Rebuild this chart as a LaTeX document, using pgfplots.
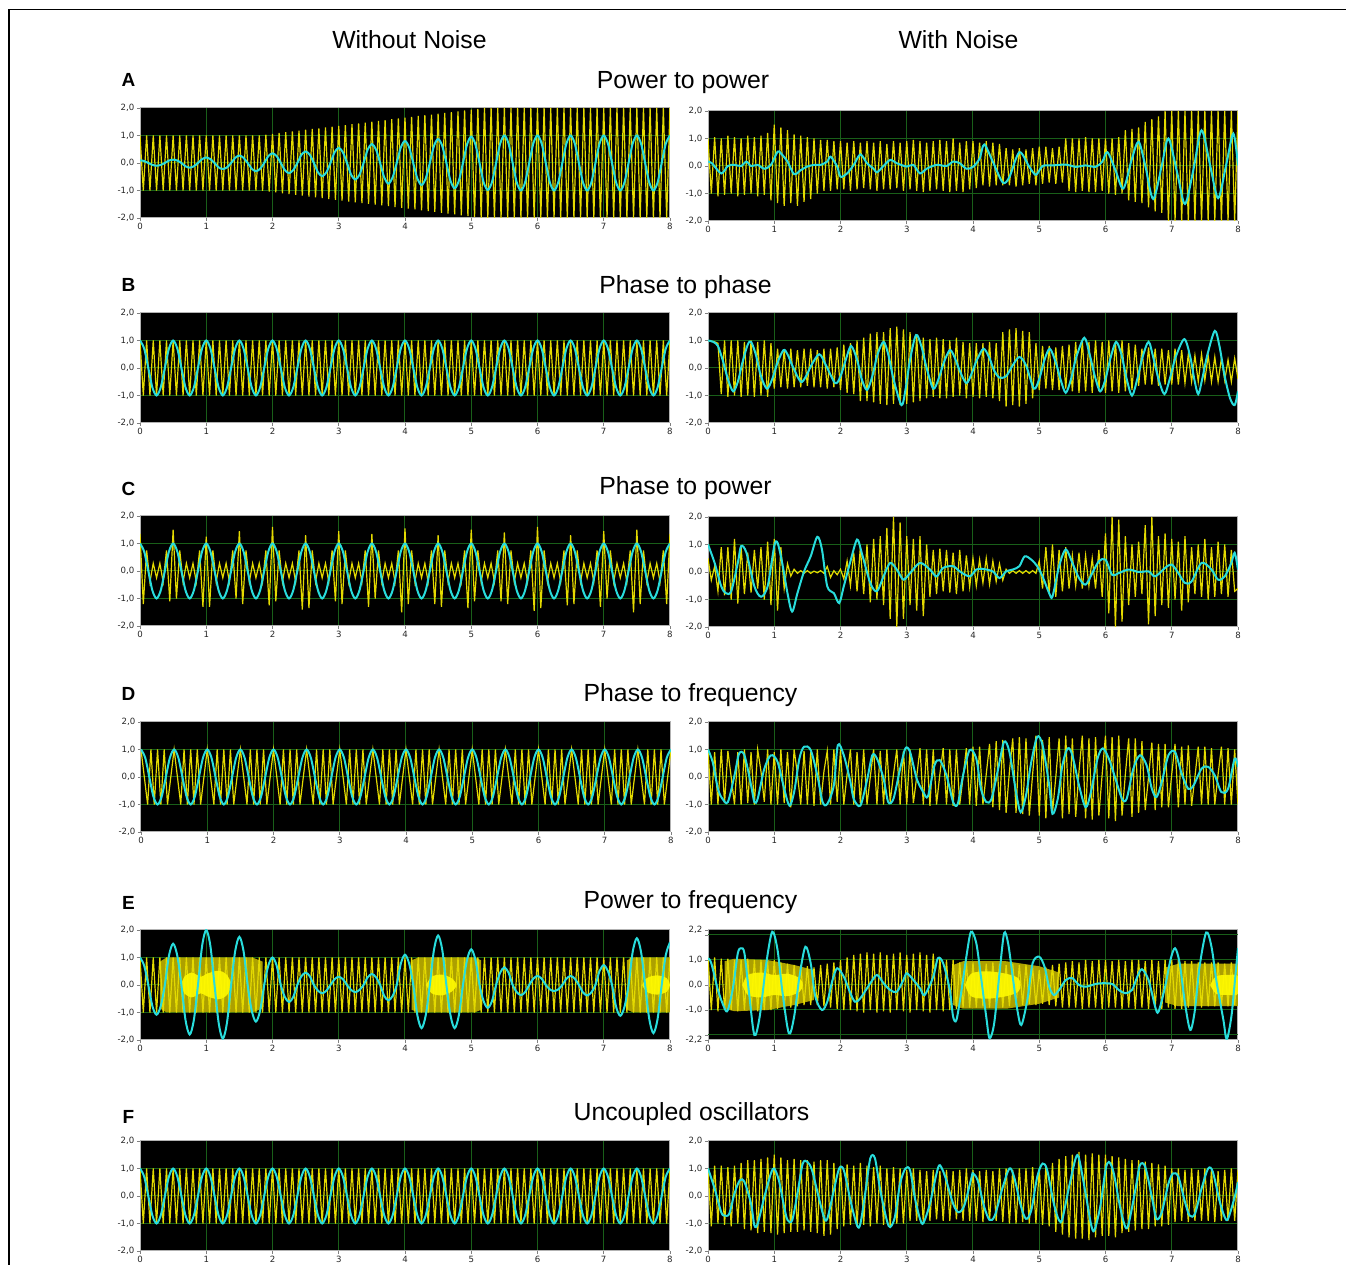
\documentclass[border=0pt]{standalone}
\usepackage{pgfplots}
\pgfplotsset{compat=1.18}
\usepackage{fontspec}
\setmainfont{Liberation Sans}
\newfontfamily\tickfont{DejaVu Sans}
\definecolor{yl}{RGB}{228,218,0}
\definecolor{cy}{RGB}{40,220,220}
\definecolor{olv}{RGB}{172,160,0}
\definecolor{core}{RGB}{255,250,0}
\definecolor{gridg}{RGB}{25,95,25}
\pgfplotsset{
 osc/.style={scale only axis,width=265pt,height=55pt,xmin=0,xmax=8,ymin=-2,ymax=2,
  axis background/.style={fill=black},
  xtick={0,1,...,8}, xticklabels={0,1,2,3,4,5,6,7,8},
  ytick={-2,-1,0,1,2}, yticklabels={{-2,0},{-1,0},{0,0},{1,0},{2,0}},
  xtick pos=bottom, ytick pos=left,
  grid=major, grid style={draw=gridg,line width=0.5pt},
  tick align=outside, major tick length=1.6pt,
  tick style={draw=gray,line width=0.4pt},
  axis line style={draw=gray!60,line width=0.5pt},
  tick label style={font=\tickfont\fontsize{4.3}{5}\selectfont,text=black!85},
  xticklabel style={inner sep=1pt},
  yticklabel style={inner sep=1pt},
  anchor=south west},
 ylw/.style={draw=yl,line width=0.6pt},
 cyn/.style={draw=cy,line width=1pt,smooth},
}
\begin{document}
\begin{tikzpicture}
\useasboundingbox (0,0) rectangle (673pt,632.5pt);
\draw[line width=0.6pt] (4.5pt,0pt) -- (4.5pt,627.8pt) -- (673pt,627.8pt);
\node[font=\fontsize{12.4}{14}\selectfont,anchor=base] at (204.75pt,608.25pt) {Without Noise};
\node[font=\fontsize{12.4}{14}\selectfont,anchor=base] at (479.25pt,608.25pt) {With Noise};
\node[font=\fontsize{12.4}{14}\selectfont,anchor=base] at (341.5pt,588.25pt) {Power to power};
\node[font=\fontsize{12.4}{14}\selectfont,anchor=base] at (342.75pt,485.75pt) {Phase to phase};
\node[font=\fontsize{12.4}{14}\selectfont,anchor=base] at (342.75pt,385.25pt) {Phase to power};
\node[font=\fontsize{12.4}{14}\selectfont,anchor=base] at (345.25pt,281.75pt) {Phase to frequency};
\node[font=\fontsize{12.4}{14}\selectfont,anchor=base] at (345.25pt,178.25pt) {Power to frequency};
\node[font=\fontsize{12.4}{14}\selectfont,anchor=base] at (345.75pt,72.25pt) {Uncoupled oscillators};
\node[font=\bfseries\fontsize{9.5}{11}\selectfont,anchor=base] at (64.25pt,589.25pt) {A};
\node[font=\bfseries\fontsize{9.5}{11}\selectfont,anchor=base] at (64.25pt,486.75pt) {B};
\node[font=\bfseries\fontsize{9.5}{11}\selectfont,anchor=base] at (64.25pt,384.75pt) {C};
\node[font=\bfseries\fontsize{9.5}{11}\selectfont,anchor=base] at (64.25pt,282.25pt) {D};
\node[font=\bfseries\fontsize{9.5}{11}\selectfont,anchor=base] at (64.25pt,177.75pt) {E};
\node[font=\bfseries\fontsize{9.5}{11}\selectfont,anchor=base] at (64.25pt,70.75pt) {F};

% ---------------- A left ----------------
\begin{axis}[osc,at={(70pt,523.5pt)}]
\addplot[ylw] table[x expr=\coordindex*0.05,y index=0,header=false,row sep=\\]{
1\\-1\\1\\-1\\1\\-1\\1\\-1\\1\\-1\\1\\-1\\1\\-1\\1\\-1\\1\\-1\\1\\-1\\
1\\-1\\1\\-1\\1\\-1\\1\\-1\\1\\-1\\1\\-1\\1\\-1\\1\\-1\\1\\-1.01\\1.03\\-1.04\\
1.06\\-1.07\\1.09\\-1.10\\1.12\\-1.13\\1.15\\-1.16\\1.18\\-1.19\\1.21\\-1.22\\1.24\\-1.25\\1.26\\-1.28\\1.29\\-1.31\\1.32\\-1.34\\
1.35\\-1.37\\1.38\\-1.40\\1.41\\-1.43\\1.44\\-1.46\\1.47\\-1.49\\1.50\\-1.51\\1.53\\-1.54\\1.56\\-1.57\\1.59\\-1.60\\1.62\\-1.63\\
1.65\\-1.66\\1.68\\-1.69\\1.71\\-1.72\\1.74\\-1.75\\1.76\\-1.78\\1.79\\-1.81\\1.82\\-1.84\\1.85\\-1.87\\1.88\\-1.90\\1.91\\-1.93\\
1.94\\-1.96\\1.97\\-1.99\\2\\-2\\2\\-2\\2\\-2\\2\\-2\\2\\-2\\2\\-2\\2\\-2\\2\\-2\\
2\\-2\\2\\-2\\2\\-2\\2\\-2\\2\\-2\\2\\-2\\2\\-2\\2\\-2\\2\\-2\\2\\-2\\
2\\-2\\2\\-2\\2\\-2\\2\\-2\\2\\-2\\2\\-2\\2\\-2\\2\\-2\\2\\-2\\2\\-2\\
2\\};
\addplot[cyn] table[x expr=\coordindex*0.0625,y index=0,header=false,row sep=\\]{
0.1\\0.07\\0\\-0.07\\-0.1\\-0.07\\0\\0.09\\0.12\\0.09\\0\\-0.12\\-0.17\\-0.12\\0\\0.14\\
0.2\\0.14\\0\\-0.16\\-0.22\\-0.16\\0\\0.19\\0.27\\0.19\\0\\-0.21\\-0.3\\-0.21\\0\\0.25\\
0.35\\0.25\\0\\-0.26\\-0.37\\-0.26\\0\\0.3\\0.42\\0.3\\0\\-0.34\\-0.48\\-0.34\\0\\0.39\\
0.55\\0.39\\0\\-0.43\\-0.6\\-0.43\\0\\0.49\\0.69\\0.49\\0\\-0.53\\-0.75\\-0.53\\0\\0.57\\
0.8\\0.57\\0\\-0.57\\-0.8\\-0.57\\0\\0.62\\0.87\\0.62\\0\\-0.65\\-0.92\\-0.65\\0\\0.68\\
0.96\\0.68\\0\\-0.7\\-0.98\\-0.7\\0\\0.71\\1\\0.71\\0\\-0.71\\-1\\-0.71\\0\\0.71\\
1\\0.71\\0\\-0.71\\-1\\-0.71\\0\\0.71\\1\\0.71\\0\\-0.71\\-1\\-0.71\\0\\0.71\\
1\\0.71\\0\\-0.71\\-1\\-0.71\\0\\0.71\\1\\0.71\\0\\-0.71\\-1\\-0.71\\0\\0.71\\
1\\};
\end{axis}

% ---------------- A right ----------------
\begin{axis}[osc,at={(354pt,522pt)}]
\addplot[ylw] table[x expr=\coordindex*0.05,y index=0,header=false,row sep=\\]{
1.0\\-1.0\\1.05\\-1.1\\1.0\\-1.05\\1.1\\-1.0\\1.05\\-1.1\\1.0\\-1.05\\1.1\\-1.0\\1.05\\-1.1\\1.1\\-1.05\\1.2\\-1.25\\
1.5\\-1.35\\1.4\\-1.45\\1.3\\-1.35\\1.15\\-1.45\\1.1\\-1.3\\1.05\\-1.2\\1.0\\-1.0\\0.95\\-0.9\\0.95\\-0.9\\0.9\\-0.85\\
0.9\\-0.85\\0.85\\-0.9\\0.9\\-0.85\\0.85\\-0.8\\0.9\\-0.85\\0.85\\-0.9\\0.9\\-0.85\\0.8\\-0.85\\0.9\\-0.8\\0.85\\-0.9\\
0.9\\-0.85\\0.95\\-0.9\\0.9\\-0.95\\0.85\\-0.9\\0.9\\-0.85\\0.95\\-0.9\\0.9\\-0.95\\1.0\\-0.9\\0.85\\-0.95\\0.9\\-0.85\\
0.9\\-0.8\\0.85\\-0.7\\0.9\\-0.75\\0.85\\-0.7\\0.8\\-0.7\\0.65\\-0.7\\0.6\\-0.75\\0.65\\-0.7\\0.6\\-0.65\\0.65\\-0.7\\
0.7\\-0.65\\0.7\\-0.6\\0.65\\-0.65\\0.7\\-0.6\\1.0\\-0.9\\1.0\\-0.95\\1.0\\-0.9\\1.05\\-0.95\\1.0\\-0.95\\1.0\\-0.9\\
1.0\\-1.0\\1.0\\-1.05\\1.05\\-1.0\\1.3\\-1.25\\1.35\\-1.3\\1.4\\-1.35\\1.6\\-1.5\\1.7\\-1.65\\1.8\\-1.7\\2\\-2\\
2\\-2\\2\\-2\\2\\-2\\2\\-2\\2\\-2\\2\\-2\\2\\-2\\2\\-2\\2\\-2\\2\\-2\\
2\\};
\addplot[cyn] coordinates {(0,0.16)(0.06,0.1)(0.2,-0.27)(0.3,0)(0.4,0.04)(0.5,0)(0.58,0.16)(0.65,0)(0.75,0.04)(0.85,-0.1)(0.95,0.04)(1.05,0.52)(1.1,0.46)(1.2,0.16)(1.3,-0.3)(1.4,-0.15)(1.5,-0.02)(1.6,0.04)(1.7,0.04)(1.8,0.16)(1.85,0.34)(1.95,-0.02)(2.0,-0.39)(2.1,-0.27)(2.2,0.04)(2.3,0.42)(2.4,0.1)(2.5,-0.1)(2.55,-0.23)(2.65,0)(2.75,0.22)(2.85,0.1)(3.0,-0.02)(3.1,0.04)(3.2,-0.27)(3.3,-0.1)(3.45,0.04)(3.6,0)(3.7,0.16)(3.8,0.1)(3.9,-0.1)(4.0,-0.03)(4.1,0.27)(4.17,0.78)(4.3,0.15)(4.45,-0.6)(4.55,-0.4)(4.7,0.5)(4.85,-0.03)(4.95,-0.32)(5.05,0)(5.2,0.02)(5.4,0.05)(5.55,-0.03)(5.7,0.02)(5.85,-0.03)(5.95,0.15)(6.03,0.5)(6.15,-0.15)(6.27,-0.82)(6.4,0.27)(6.5,0.88)(6.6,0.02)(6.72,-1.2)(6.85,0.02)(6.95,1.0)(7.08,-0.22)(7.2,-1.38)(7.33,-0.1)(7.45,1.3)(7.58,0.02)(7.7,-1.17)(7.82,0.02)(7.93,1.18)(8,0.02)};
\end{axis}

% ---------------- B left ----------------
\begin{axis}[osc,at={(70pt,421pt)}]
\addplot[ylw] table[x expr=\coordindex*0.05,y index=0,header=false,row sep=\\]{
1\\-1\\1\\-1\\1\\-1\\1\\-1\\1\\-1\\1\\-1\\1\\-1\\1\\-1\\1\\-1\\1\\-1\\
1\\-1\\1\\-1\\1\\-1\\1\\-1\\1\\-1\\1\\-1\\1\\-1\\1\\-1\\1\\-1\\1\\-1\\
1\\-1\\1\\-1\\1\\-1\\1\\-1\\1\\-1\\1\\-1\\1\\-1\\1\\-1\\1\\-1\\1\\-1\\
1\\-1\\1\\-1\\1\\-1\\1\\-1\\1\\-1\\1\\-1\\1\\-1\\1\\-1\\1\\-1\\1\\-1\\
1\\-1\\1\\-1\\1\\-1\\1\\-1\\1\\-1\\1\\-1\\1\\-1\\1\\-1\\1\\-1\\1\\-1\\
1\\-1\\1\\-1\\1\\-1\\1\\-1\\1\\-1\\1\\-1\\1\\-1\\1\\-1\\1\\-1\\1\\-1\\
1\\-1\\1\\-1\\1\\-1\\1\\-1\\1\\-1\\1\\-1\\1\\-1\\1\\-1\\1\\-1\\1\\-1\\
1\\-1\\1\\-1\\1\\-1\\1\\-1\\1\\-1\\1\\-1\\1\\-1\\1\\-1\\1\\-1\\1\\-1\\
1\\};
\addplot[cyn] table[x expr=\coordindex*0.0625,y index=0,header=false,row sep=\\]{
1\\0.71\\0\\-0.71\\-1\\-0.71\\0\\0.71\\1\\0.71\\0\\-0.71\\-1\\-0.71\\0\\0.71\\
1\\0.71\\0\\-0.71\\-1\\-0.71\\0\\0.71\\1\\0.71\\0\\-0.71\\-1\\-0.71\\0\\0.71\\
1\\0.71\\0\\-0.71\\-1\\-0.71\\0\\0.71\\1\\0.71\\0\\-0.71\\-1\\-0.71\\0\\0.71\\
1\\0.71\\0\\-0.71\\-1\\-0.71\\0\\0.71\\1\\0.71\\0\\-0.71\\-1\\-0.71\\0\\0.71\\
1\\0.71\\0\\-0.71\\-1\\-0.71\\0\\0.71\\1\\0.71\\0\\-0.71\\-1\\-0.71\\0\\0.71\\
1\\0.71\\0\\-0.71\\-1\\-0.71\\0\\0.71\\1\\0.71\\0\\-0.71\\-1\\-0.71\\0\\0.71\\
1\\0.71\\0\\-0.71\\-1\\-0.71\\0\\0.71\\1\\0.71\\0\\-0.71\\-1\\-0.71\\0\\0.71\\
1\\0.71\\0\\-0.71\\-1\\-0.71\\0\\0.71\\1\\0.71\\0\\-0.71\\-1\\-0.71\\0\\0.71\\
1\\};
\end{axis}

% ---------------- B right ----------------
\begin{axis}[osc,at={(354pt,421pt)}]
\addplot[ylw] table[x expr=\coordindex*0.05,y index=0,header=false,row sep=\\]{
1.0\\0.97\\0.95\\0.9\\-0.95\\1.0\\-1.05\\1.0\\-1.0\\1.0\\-1.05\\0.95\\-1.0\\1.0\\-1.05\\0.95\\-1.0\\1.0\\-1.05\\0.9\\
-0.75\\0.7\\-0.7\\0.65\\-0.75\\0.7\\-0.7\\0.65\\-0.7\\0.7\\-0.65\\0.7\\-0.7\\0.65\\-0.7\\0.7\\-0.75\\0.7\\-0.7\\0.75\\
-0.8\\0.85\\-0.9\\0.9\\-0.95\\1.0\\-1.2\\1.1\\-1.2\\1.25\\-1.25\\1.3\\-1.3\\1.3\\-1.35\\1.45\\-1.3\\1.5\\-1.35\\1.4\\
-1.3\\1.3\\-1.25\\1.2\\-1.2\\1.1\\-1.1\\1.05\\-1.05\\1.1\\-1.1\\1.05\\-1.1\\1.0\\-1.05\\1.1\\-1.0\\0.95\\-1.1\\0.9\\
-1.05\\0.9\\-1.1\\0.9\\-1.05\\0.95\\-1.1\\0.9\\-1.2\\1.3\\-1.4\\1.4\\-1.35\\1.45\\-1.4\\1.35\\-1.3\\1.3\\-1.1\\0.9\\
-0.8\\0.8\\-0.75\\0.8\\-0.8\\0.75\\-0.8\\0.8\\-0.75\\0.85\\-0.85\\0.95\\-0.9\\1.0\\-0.85\\0.95\\-0.9\\1.0\\-0.85\\0.95\\
-0.9\\1.0\\-0.85\\0.95\\-0.9\\1.0\\-0.85\\0.9\\-0.8\\0.85\\-0.65\\0.7\\-0.6\\0.75\\-0.6\\0.7\\-0.65\\0.7\\-0.6\\0.65\\
-0.6\\0.7\\-0.6\\0.65\\-0.55\\0.5\\-0.5\\0.45\\-0.5\\0.5\\-0.45\\0.45\\-0.5\\0.4\\-0.5\\0.35\\-0.45\\0.3\\-0.5\\0.35\\
-0.4\\};
\addplot[cyn] coordinates {(0,1)(0.08,0.95)(0.15,0.8)(0.22,0.3)(0.3,-0.4)(0.38,-0.85)(0.45,-0.5)(0.52,0.2)(0.6,0.85)(0.65,0.95)(0.72,0.5)(0.8,-0.3)(0.89,-0.75)(0.97,-0.4)(1.05,0.2)(1.14,0.65)(1.2,0.5)(1.28,0.05)(1.4,-0.5)(1.48,-0.3)(1.56,0.1)(1.68,0.5)(1.78,0.1)(1.92,-0.55)(2.0,-0.3)(2.08,0.3)(2.16,0.8)(2.25,0.3)(2.32,-0.4)(2.4,-0.8)(2.48,-0.3)(2.56,0.5)(2.65,0.95)(2.72,0.5)(2.8,-0.4)(2.92,-1.35)(2.98,-0.8)(3.05,0.3)(3.14,1.2)(3.22,0.8)(3.3,0)(3.4,-0.75)(3.48,-0.4)(3.56,0.2)(3.65,0.65)(3.72,0.4)(3.8,-0.1)(3.9,-0.55)(3.98,-0.2)(4.06,0.3)(4.16,0.7)(4.25,0.35)(4.32,-0.1)(4.4,-0.35)(4.5,-0.3)(4.6,0.1)(4.7,0.4)(4.8,0.1)(4.92,-0.75)(5.0,-0.4)(5.08,0.3)(5.16,0.7)(5.25,0.2)(5.32,-0.4)(5.4,-0.9)(5.48,-0.4)(5.56,0.4)(5.68,1.1)(5.76,0.5)(5.84,-0.3)(5.92,-0.85)(6.0,-0.4)(6.08,0.4)(6.16,0.95)(6.24,0.5)(6.32,-0.4)(6.4,-1.0)(6.48,-0.4)(6.56,0.4)(6.65,0.95)(6.72,0.4)(6.8,-0.4)(6.89,-0.95)(6.97,-0.4)(7.06,0.4)(7.19,1.05)(7.28,0.4)(7.34,-0.4)(7.4,-0.95)(7.46,-0.4)(7.54,0.5)(7.65,1.35)(7.72,0.8)(7.8,-0.3)(7.88,-1.1)(7.95,-1.35)(8,-0.85)};
\end{axis}

% ---------------- C left ----------------
\begin{axis}[osc,at={(70pt,319.5pt)}]
\addplot[ylw] table[x expr=\coordindex*0.05,y index=0,header=false,row sep=\\]{
1.35\\-1.2\\0.75\\-0.4\\0.28\\-0.25\\0.28\\-0.4\\0.75\\-1.1\\
1.5\\-1.0\\0.75\\-0.4\\0.28\\-0.25\\0.28\\-0.4\\0.75\\-1.3\\
1.25\\-1.3\\0.75\\-0.4\\0.28\\-0.25\\0.28\\-0.4\\0.75\\-1.0\\
1.45\\-1.2\\0.75\\-0.4\\0.28\\-0.25\\0.28\\-0.4\\0.75\\-1.25\\
1.6\\-1.1\\0.75\\-0.4\\0.28\\-0.25\\0.28\\-0.4\\0.75\\-1.4\\
1.3\\-1.35\\0.75\\-0.4\\0.28\\-0.25\\0.28\\-0.4\\0.75\\-1.1\\
1.45\\-1.2\\0.75\\-0.4\\0.28\\-0.25\\0.28\\-0.4\\0.75\\-1.3\\
1.35\\-1.0\\0.75\\-0.4\\0.28\\-0.25\\0.28\\-0.4\\0.75\\-1.5\\
1.55\\-1.2\\0.75\\-0.4\\0.28\\-0.25\\0.28\\-0.4\\0.75\\-1.2\\
1.3\\-1.3\\0.75\\-0.4\\0.28\\-0.25\\0.28\\-0.4\\0.75\\-1.35\\
1.5\\-1.1\\0.75\\-0.4\\0.28\\-0.25\\0.28\\-0.4\\0.75\\-1.1\\
1.4\\-1.2\\0.75\\-0.4\\0.28\\-0.25\\0.28\\-0.4\\0.75\\-1.45\\
1.6\\-1.35\\0.75\\-0.4\\0.28\\-0.25\\0.28\\-0.4\\0.75\\-1.25\\
1.3\\-1.2\\0.75\\-0.4\\0.28\\-0.25\\0.28\\-0.4\\0.75\\-1.3\\
1.45\\-1.0\\0.75\\-0.4\\0.28\\-0.25\\0.28\\-0.4\\0.75\\-1.5\\
1.5\\-1.2\\0.75\\-0.4\\0.28\\-0.25\\0.28\\-0.4\\0.75\\-1.2\\
1.35\\};
\addplot[cyn] table[x expr=\coordindex*0.0625,y index=0,header=false,row sep=\\]{
1\\0.71\\0\\-0.71\\-1\\-0.71\\0\\0.71\\1\\0.71\\0\\-0.71\\-1\\-0.71\\0\\0.71\\
1\\0.71\\0\\-0.71\\-1\\-0.71\\0\\0.71\\1\\0.71\\0\\-0.71\\-1\\-0.71\\0\\0.71\\
1\\0.71\\0\\-0.71\\-1\\-0.71\\0\\0.71\\1\\0.71\\0\\-0.71\\-1\\-0.71\\0\\0.71\\
1\\0.71\\0\\-0.71\\-1\\-0.71\\0\\0.71\\1\\0.71\\0\\-0.71\\-1\\-0.71\\0\\0.71\\
1\\0.71\\0\\-0.71\\-1\\-0.71\\0\\0.71\\1\\0.71\\0\\-0.71\\-1\\-0.71\\0\\0.71\\
1\\0.71\\0\\-0.71\\-1\\-0.71\\0\\0.71\\1\\0.71\\0\\-0.71\\-1\\-0.71\\0\\0.71\\
1\\0.71\\0\\-0.71\\-1\\-0.71\\0\\0.71\\1\\0.71\\0\\-0.71\\-1\\-0.71\\0\\0.71\\
1\\0.71\\0\\-0.71\\-1\\-0.71\\0\\0.71\\1\\0.71\\0\\-0.71\\-1\\-0.71\\0\\0.71\\
1\\};
\end{axis}

% ---------------- C right ----------------
\begin{axis}[osc,at={(354pt,319pt)}]
\addplot[ylw] table[x expr=\coordindex*0.05,y index=0,header=false,row sep=\\]{
0.5\\-0.3\\0.2\\-0.7\\0.9\\-0.85\\0.9\\-1.0\\1.2\\-1.15\\0.9\\-0.8\\0.7\\-0.75\\0.8\\-0.6\\0.9\\-1.0\\1.1\\-1.2\\
1.2\\-1.4\\0.9\\-0.6\\0.3\\-0.15\\0.1\\-0.05\\0.05\\-0.05\\0.05\\-0.05\\0.03\\-0.03\\0.05\\-0.05\\0.2\\-0.2\\0.05\\-0.1\\
0.1\\-0.25\\0.4\\-0.5\\0.7\\-0.7\\0.9\\-0.8\\1.0\\-1.1\\1.2\\-1.0\\1.3\\-1.2\\1.6\\-1.7\\2.0\\-2.0\\1.8\\-1.7\\
1.3\\-1.2\\1.2\\-1.4\\1.3\\-1.6\\1.0\\-0.9\\0.8\\-0.8\\0.85\\-0.7\\0.8\\-0.75\\0.7\\-0.8\\0.8\\-0.7\\0.6\\-0.55\\
0.5\\-0.5\\0.45\\-0.4\\0.5\\-0.45\\0.4\\-0.35\\0.3\\-0.3\\0.1\\-0.05\\0.05\\-0.05\\0.05\\-0.05\\0.05\\-0.05\\0.05\\-0.05\\
0.4\\-0.6\\0.9\\-0.8\\1.0\\-0.9\\0.8\\-0.7\\0.9\\-0.6\\0.6\\-0.5\\0.7\\-0.6\\0.6\\-0.5\\0.5\\-0.6\\0.8\\-0.9\\
1.4\\-1.5\\2.0\\-2.0\\1.9\\-1.8\\1.3\\-1.2\\1.0\\-0.9\\1.1\\-0.8\\1.7\\-1.9\\2.0\\-1.6\\1.3\\-1.2\\1.4\\-1.3\\
1.2\\-1.0\\1.1\\-1.4\\1.3\\-1.1\\0.9\\-0.8\\1.0\\-0.9\\1.2\\-1.0\\0.9\\-0.9\\1.1\\-0.8\\1.0\\-0.9\\0.8\\-0.7\\
-0.6\\};
\addplot[cyn] coordinates {(0,1.0)(0.1,0.33)(0.2,-0.52)(0.27,-0.77)(0.35,-0.7)(0.45,0.33)(0.5,0.94)(0.58,0.7)(0.7,-0.52)(0.8,-0.9)(0.9,-0.52)(1.0,0.94)(1.05,1.06)(1.12,0.33)(1.2,-0.77)(1.27,-1.44)(1.35,-0.77)(1.45,0.02)(1.55,0.57)(1.65,1.28)(1.72,0.82)(1.8,-0.52)(1.9,-0.77)(1.98,-1.13)(2.05,-0.52)(2.15,0.39)(2.25,1.18)(2.32,0.7)(2.45,-0.4)(2.55,-0.7)(2.65,-0.16)(2.75,0.33)(2.85,0.09)(2.95,-0.28)(3.05,-0.04)(3.2,0.33)(3.35,0.09)(3.45,-0.16)(3.55,0.15)(3.7,0.21)(3.8,0.02)(3.95,-0.16)(4.05,0.09)(4.15,0.11)(4.3,0.02)(4.4,-0.22)(4.5,0.02)(4.6,0.09)(4.7,0.21)(4.78,0.57)(4.88,0.45)(4.97,0.21)(5.05,-0.16)(5.15,-0.77)(5.2,-0.89)(5.3,0.21)(5.4,0.82)(5.5,0.33)(5.6,-0.22)(5.7,-0.46)(5.8,-0.04)(5.9,0.39)(6.0,0.45)(6.1,-0.1)(6.2,-0.04)(6.35,0.09)(6.5,0)(6.65,0.02)(6.75,-0.16)(6.9,0.15)(7.0,0.27)(7.1,-0.04)(7.2,-0.4)(7.3,-0.34)(7.45,0.33)(7.6,0.09)(7.7,-0.28)(7.8,-0.16)(7.9,0.33)(7.95,0.7)(8.0,0.09)};
\end{axis}

% ---------------- D left ----------------
\begin{axis}[osc,at={(70.5pt,216.5pt)}]
\addplot[ylw] table[x expr=\coordindex*0.05,y index=0,header=false,row sep=\\]{
1\\0\\-1\\1\\-1\\1\\-1\\1\\-1\\0\\1\\0\\-1\\1\\-1\\1\\-1\\1\\-1\\0\\
1\\0\\-1\\1\\-1\\1\\-1\\1\\-1\\0\\1\\0\\-1\\1\\-1\\1\\-1\\1\\-1\\0\\
1\\0\\-1\\1\\-1\\1\\-1\\1\\-1\\0\\1\\0\\-1\\1\\-1\\1\\-1\\1\\-1\\0\\
1\\0\\-1\\1\\-1\\1\\-1\\1\\-1\\0\\1\\0\\-1\\1\\-1\\1\\-1\\1\\-1\\0\\
1\\0\\-1\\1\\-1\\1\\-1\\1\\-1\\0\\1\\0\\-1\\1\\-1\\1\\-1\\1\\-1\\0\\
1\\0\\-1\\1\\-1\\1\\-1\\1\\-1\\0\\1\\0\\-1\\1\\-1\\1\\-1\\1\\-1\\0\\
1\\0\\-1\\1\\-1\\1\\-1\\1\\-1\\0\\1\\0\\-1\\1\\-1\\1\\-1\\1\\-1\\0\\
1\\0\\-1\\1\\-1\\1\\-1\\1\\-1\\0\\1\\0\\-1\\1\\-1\\1\\-1\\1\\-1\\0\\
1\\};
\addplot[cyn] table[x expr=\coordindex*0.0625,y index=0,header=false,row sep=\\]{
1\\0.71\\0\\-0.71\\-1\\-0.71\\0\\0.71\\1\\0.71\\0\\-0.71\\-1\\-0.71\\0\\0.71\\
1\\0.71\\0\\-0.71\\-1\\-0.71\\0\\0.71\\1\\0.71\\0\\-0.71\\-1\\-0.71\\0\\0.71\\
1\\0.71\\0\\-0.71\\-1\\-0.71\\0\\0.71\\1\\0.71\\0\\-0.71\\-1\\-0.71\\0\\0.71\\
1\\0.71\\0\\-0.71\\-1\\-0.71\\0\\0.71\\1\\0.71\\0\\-0.71\\-1\\-0.71\\0\\0.71\\
1\\0.71\\0\\-0.71\\-1\\-0.71\\0\\0.71\\1\\0.71\\0\\-0.71\\-1\\-0.71\\0\\0.71\\
1\\0.71\\0\\-0.71\\-1\\-0.71\\0\\0.71\\1\\0.71\\0\\-0.71\\-1\\-0.71\\0\\0.71\\
1\\0.71\\0\\-0.71\\-1\\-0.71\\0\\0.71\\1\\0.71\\0\\-0.71\\-1\\-0.71\\0\\0.71\\
1\\0.71\\0\\-0.71\\-1\\-0.71\\0\\0.71\\1\\0.71\\0\\-0.71\\-1\\-0.71\\0\\0.71\\
1\\};
\end{axis}

% ---------------- D right ----------------
\begin{axis}[osc,at={(354pt,216.5pt)}]
\addplot[ylw] table[x expr=\coordindex*0.05,y index=0,header=false,row sep=\\]{
1.0\\-1.0\\0.9\\-1.0\\1.0\\-0.95\\0.95\\0\\-1.0\\0.9\\-1.0\\1.0\\-0.95\\0.9\\-1.0\\1.0\\0.2\\-0.9\\1.0\\-1.0\\
0.9\\-1.0\\1.0\\-0.95\\0.9\\-1.1\\1.0\\0.1\\-1.0\\0.95\\-1.0\\0.9\\-1.05\\1.0\\-1.0\\0.2\\0.95\\-1.0\\1.0\\-0.9\\
1.0\\-1.0\\0.1\\1.0\\-1.0\\0.9\\-0.95\\1.0\\-1.0\\0\\1.0\\-1.0\\0.95\\-1.0\\1.0\\-0.9\\0.1\\1.0\\-1.0\\0.95\\
-1.0\\1.0\\-0.95\\0\\1.05\\-1.0\\1.0\\-1.05\\1.0\\-1.0\\0.1\\1.05\\-1.0\\1.0\\-1.05\\1.0\\-1.0\\0\\1.05\\-1.0\\
1.1\\-1.05\\1.1\\-1.0\\0.1\\1.2\\-1.1\\1.3\\-1.2\\1.35\\-1.3\\0.2\\1.4\\-1.3\\1.45\\-1.35\\1.4\\-1.4\\0.1\\1.5\\
-1.4\\1.35\\-1.5\\1.45\\-1.3\\0\\1.4\\-1.5\\1.5\\-1.35\\1.4\\-1.45\\0.2\\1.5\\-1.5\\1.4\\-1.55\\1.45\\-1.4\\0.1\\
1.5\\-1.5\\1.45\\-1.6\\1.5\\-1.4\\0.1\\1.4\\-1.45\\1.4\\-1.3\\1.3\\-1.2\\0\\1.25\\-1.2\\1.2\\-1.1\\1.2\\-1.1\\
0.1\\1.2\\-1.1\\1.1\\-1.0\\1.15\\-1.05\\0\\1.1\\-1.0\\1.1\\-1.0\\1.05\\-1.0\\0.1\\1.1\\-1.0\\1.05\\-1.0\\1.0\\
-1.0\\};
\addplot[cyn] coordinates {(0,1.0)(0.07,0.55)(0.15,-0.43)(0.22,-0.8)(0.3,-0.91)(0.4,0.06)(0.47,0.85)(0.55,0.79)(0.65,-0.3)(0.7,-0.91)(0.75,-0.79)(0.85,0.3)(0.95,0.79)(1.05,0.55)(1.15,-0.43)(1.23,-1.04)(1.3,-0.55)(1.38,0.67)(1.45,1.1)(1.55,0.98)(1.65,0.06)(1.73,-0.91)(1.8,-0.98)(1.9,-0.3)(1.96,1.16)(2.05,0.79)(2.15,-0.18)(2.2,-0.8)(2.3,-1.04)(2.4,-0.12)(2.48,0.79)(2.55,0.67)(2.65,-0.06)(2.72,-0.91)(2.8,-0.79)(2.9,0.3)(2.98,1.04)(3.05,0.91)(3.15,-0.06)(3.25,-0.55)(3.32,-0.7)(3.42,0.43)(3.5,0.61)(3.6,0.06)(3.7,-0.91)(3.77,-0.98)(3.85,0.06)(3.95,0.98)(4.05,0.67)(4.12,-0.43)(4.2,-0.91)(4.28,-0.79)(4.38,0.3)(4.47,1.28)(4.55,0.91)(4.65,-0.55)(4.72,-1.28)(4.8,-0.67)(4.88,0.55)(4.97,1.46)(5.05,1.16)(5.15,-0.3)(5.2,-1.34)(5.28,-0.79)(5.35,0.43)(5.43,1.04)(5.5,0.79)(5.6,-0.3)(5.7,-1.1)(5.78,-0.55)(5.88,0.67)(5.96,1.04)(6.05,0.67)(6.15,-0.06)(6.25,-0.79)(6.32,-0.79)(6.42,0.3)(6.52,0.79)(6.62,0.43)(6.7,-0.43)(6.77,-0.73)(6.85,-0.18)(6.95,0.79)(7.05,0.91)(7.15,0.12)(7.25,-0.43)(7.33,-0.3)(7.45,0.3)(7.55,0.37)(7.65,0.06)(7.75,-0.55)(7.85,-0.43)(7.95,0.67)(8.0,0.37)};
\end{axis}

% ---------------- E left ----------------
\begin{axis}[osc,at={(70pt,112.5pt)}]
\addplot[fill=olv,draw=none] coordinates {(0.3,0.85)(0.4,1)(1.7,1)(1.85,0.85)(1.85,-0.85)(1.7,-1)(0.4,-1)(0.3,-0.85)};
\addplot[fill=olv,draw=none] coordinates {(4.1,0.9)(4.2,1)(5.05,1)(5.15,0.9)(5.15,-0.9)(5.05,-1)(4.2,-1)(4.1,-0.9)};
\addplot[fill=olv,draw=none] coordinates {(7.35,0.9)(7.45,1)(8,1)(8,-1)(7.45,-1)(7.35,-0.9)};
\addplot[ylw] table[x expr=\coordindex*0.05,y index=0,header=false,row sep=\\]{
1\\-1\\1\\-1\\1\\-1\\1\\-1\\1\\-1\\1\\-1\\1\\-1\\1\\-1\\1\\-1\\1\\-1\\
1\\-1\\1\\-1\\1\\-1\\1\\-1\\1\\-1\\1\\-1\\1\\-1\\1\\-1\\1\\-1\\1\\-1\\
1\\-1\\1\\-1\\1\\-1\\1\\-1\\1\\-1\\1\\-1\\1\\-1\\1\\-1\\1\\-1\\1\\-1\\
1\\-1\\1\\-1\\1\\-1\\1\\-1\\1\\-1\\1\\-1\\1\\-1\\1\\-1\\1\\-1\\1\\-1\\
1\\-1\\1\\-1\\1\\-1\\1\\-1\\1\\-1\\1\\-1\\1\\-1\\1\\-1\\1\\-1\\1\\-1\\
1\\-1\\1\\-1\\1\\-1\\1\\-1\\1\\-1\\1\\-1\\1\\-1\\1\\-1\\1\\-1\\1\\-1\\
1\\-1\\1\\-1\\1\\-1\\1\\-1\\1\\-1\\1\\-1\\1\\-1\\1\\-1\\1\\-1\\1\\-1\\
1\\-1\\1\\-1\\1\\-1\\1\\-1\\1\\-1\\1\\-1\\1\\-1\\1\\-1\\1\\-1\\1\\-1\\
1\\};
\addplot[fill=core,draw=none,smooth,fill opacity=0.9] coordinates {(0.62,0)(0.67,0.3)(0.78,0.45)(0.92,0.3)(1.0,0.4)(1.18,0.52)(1.3,0.4)(1.38,0)(1.3,-0.4)(1.18,-0.52)(1.0,-0.4)(0.92,-0.3)(0.78,-0.45)(0.67,-0.3)(0.62,0)};
\addplot[fill=core,draw=none,smooth,fill opacity=0.9] coordinates {(4.32,0)(4.4,0.3)(4.55,0.38)(4.7,0.25)(4.78,0)(4.7,-0.25)(4.55,-0.38)(4.4,-0.3)(4.32,0)};
\addplot[fill=core,draw=none,smooth,fill opacity=0.9] coordinates {(7.58,0)(7.65,0.25)(7.8,0.35)(7.95,0.25)(8.0,0)(7.95,-0.25)(7.8,-0.35)(7.65,-0.25)(7.58,0)};
\addplot[cyn] table[x expr=\coordindex*0.0625,y index=0,header=false,row sep=\\]{
1.0\\0.71\\0\\-0.77\\-1.08\\-0.77\\0\\1.07\\1.5\\1.07\\0\\-1.28\\-1.8\\-1.28\\0\\1.42\\
2.0\\1.42\\0\\-1.38\\-1.95\\-1.38\\0\\1.24\\1.75\\1.24\\0\\-0.94\\-1.33\\-0.94\\0\\0.71\\
1.0\\0.71\\0\\-0.44\\-0.62\\-0.44\\0\\0.32\\0.45\\0.32\\0\\-0.21\\-0.3\\-0.21\\0\\0.21\\
0.3\\0.21\\0\\-0.18\\-0.26\\-0.18\\0\\0.28\\0.4\\0.28\\0\\-0.4\\-0.56\\-0.4\\0\\0.78\\
1.1\\0.78\\0\\-1.11\\-1.57\\-1.11\\0\\1.28\\1.8\\1.28\\0\\-1.11\\-1.57\\-1.11\\0\\0.92\\
1.3\\0.92\\0\\-0.59\\-0.83\\-0.59\\0\\0.45\\0.64\\0.45\\0\\-0.26\\-0.37\\-0.26\\0\\0.23\\
0.33\\0.23\\0\\-0.16\\-0.22\\-0.16\\0\\0.23\\0.33\\0.23\\0\\-0.27\\-0.38\\-0.27\\0\\0.51\\
0.72\\0.51\\0\\-0.8\\-1.12\\-0.8\\0\\1.21\\1.7\\1.21\\0\\-1.24\\-1.75\\-1.24\\0\\1.1\\
1.55\\};
\end{axis}

% ---------------- E right ----------------
\begin{axis}[osc,at={(354pt,112.5pt)},ymin=-2.2,ymax=2.2,ytick={-2.2,-1,0,1,2.2},yticklabels={{-2,2},{-1,0},{0,0},{1,0},{2,2}},extra y ticks={-2,2},extra y tick labels={}]
\addplot[fill=olv,draw=none] coordinates {(0.25,0.95)(0.4,1.05)(0.9,1.0)(1.3,0.8)(1.6,0.6)(1.6,-0.6)(1.3,-0.8)(0.9,-1.0)(0.4,-1.05)(0.25,-0.95)};
\addplot[fill=olv,draw=none] coordinates {(3.7,0.8)(3.85,0.95)(4.5,0.95)(5.0,0.75)(5.3,0.5)(5.3,-0.5)(5.0,-0.75)(4.5,-0.95)(3.85,-0.95)(3.7,-0.8)};
\addplot[fill=olv,draw=none] coordinates {(6.9,0.7)(7.1,0.85)(8,0.85)(8,-0.85)(7.1,-0.85)(6.9,-0.7)};
\addplot[ylw] table[x expr=\coordindex*0.05,y index=0,header=false,row sep=\\]{
1.1\\-1.0\\1.1\\-1.05\\1.05\\-1.0\\1.05\\-1.0\\1.0\\-1.05\\1.0\\-1.0\\1.05\\-1.0\\1.0\\-1.05\\1.0\\-1.0\\0.95\\-1.0\\
1.0\\-0.95\\0.9\\-1.0\\0.85\\-0.9\\0.8\\-0.85\\0.8\\-0.8\\0.75\\-0.8\\0.7\\-0.8\\0.8\\-0.85\\0.85\\-0.9\\0.9\\-0.95\\
1.0\\-1.0\\1.1\\-1.0\\1.2\\-1.05\\1.25\\-1.1\\1.3\\-1.0\\1.25\\-1.1\\1.3\\-1.05\\1.2\\-1.1\\1.25\\-1.0\\1.3\\-1.05\\
1.2\\-1.1\\1.25\\-1.0\\1.3\\-1.05\\1.2\\-1.1\\1.25\\-1.0\\1.1\\-1.05\\1.0\\-1.0\\1.0\\-0.95\\0.9\\-0.9\\0.9\\-0.9\\
0.9\\-0.9\\0.9\\-0.85\\0.85\\-0.9\\0.9\\-0.85\\0.85\\-0.9\\0.8\\-0.85\\0.85\\-0.8\\0.8\\-0.8\\0.8\\-0.75\\0.7\\-0.8\\
0.6\\-0.75\\0.7\\-0.8\\0.8\\-0.85\\0.85\\-0.9\\0.9\\-0.9\\0.95\\-0.9\\0.9\\-0.95\\1.0\\-0.9\\0.95\\-0.9\\1.0\\-0.95\\
1.0\\-0.9\\0.95\\-0.9\\1.0\\-0.95\\0.95\\-0.9\\1.0\\-0.95\\1.0\\-0.9\\0.95\\-0.95\\1.0\\-0.9\\0.95\\-0.95\\1.0\\-0.9\\
1.0\\-0.95\\1.0\\-0.95\\0.95\\-0.9\\0.95\\-0.9\\0.9\\-0.9\\0.9\\-0.85\\0.9\\-0.85\\0.9\\-0.85\\0.85\\-0.85\\0.9\\-0.8\\
0.85\\};
\addplot[fill=core,draw=none,smooth,fill opacity=0.9] coordinates {(0.52,0)(0.6,0.4)(0.8,0.5)(1.0,0.4)(1.2,0.45)(1.38,0.28)(1.43,0)(1.38,-0.28)(1.2,-0.45)(1.0,-0.4)(0.8,-0.5)(0.6,-0.4)(0.52,0)};
\addplot[fill=core,draw=none,smooth,fill opacity=0.9] coordinates {(3.88,0)(3.97,0.45)(4.2,0.55)(4.5,0.45)(4.68,0.28)(4.72,0)(4.68,-0.28)(4.5,-0.45)(4.2,-0.55)(3.97,-0.45)(3.88,0)};
\addplot[fill=core,draw=none,smooth,fill opacity=0.9] coordinates {(7.58,0)(7.67,0.35)(7.85,0.4)(8,0.35)(8,-0.35)(7.85,-0.4)(7.67,-0.35)(7.58,0)};
\addplot[cyn] coordinates {(0,1.07)(0.05,0.87)(0.15,-0.2)(0.25,-0.93)(0.3,-1.0)(0.38,-0.07)(0.45,1.27)(0.5,1.47)(0.55,1.27)(0.62,-0.33)(0.7,-2.0)(0.78,-1.27)(0.88,0.87)(0.97,2.13)(1.05,1.4)(1.12,-0.2)(1.22,-1.93)(1.3,-1.27)(1.38,0.33)(1.47,1.53)(1.55,0.87)(1.62,-0.47)(1.72,-1.0)(1.8,-0.67)(1.88,0.2)(1.95,0.67)(2.05,0.33)(2.15,-0.33)(2.22,-0.67)(2.3,-0.53)(2.45,0.07)(2.55,0.4)(2.65,0.07)(2.75,-0.2)(2.85,-0.27)(2.95,0.2)(3.0,0.47)(3.1,0.2)(3.2,-0.13)(3.27,-0.4)(3.4,0.33)(3.47,1.07)(3.55,0.87)(3.65,-0.2)(3.7,-1.27)(3.75,-1.4)(3.82,-0.33)(3.9,1.13)(3.97,2.13)(4.05,1.67)(4.12,0.33)(4.2,-1.27)(4.25,-2.13)(4.32,-1.53)(4.4,0.47)(4.47,2.07)(4.53,1.67)(4.6,0.33)(4.67,-1.0)(4.73,-1.6)(4.82,-0.6)(4.9,0.87)(5.0,1.13)(5.08,0.73)(5.15,-0.07)(5.22,-0.4)(5.3,-0.2)(5.4,0.2)(5.5,0.27)(5.6,0)(5.7,-0.07)(5.85,0.04)(5.95,0.07)(6.1,0.04)(6.2,-0.2)(6.3,-0.33)(6.4,-0.2)(6.48,0.33)(6.55,0.63)(6.65,0.2)(6.75,-0.87)(6.8,-1.07)(6.9,-0.07)(6.98,1.0)(7.05,1.47)(7.12,0.87)(7.2,-0.73)(7.28,-1.8)(7.35,-1.0)(7.42,0.73)(7.52,2.1)(7.6,1.53)(7.68,0.07)(7.78,-1.4)(7.83,-2.17)(7.9,-1.27)(7.95,0.07)(8.0,1.47)};
\end{axis}

% ---------------- F left ----------------
\begin{axis}[osc,at={(70pt,7pt)}]
\addplot[ylw] table[x expr=\coordindex*0.05,y index=0,header=false,row sep=\\]{
1\\-1\\1\\-1\\1\\-1\\1\\-1\\1\\-1\\1\\-1\\1\\-1\\1\\-1\\1\\-1\\1\\-1\\
1\\-1\\1\\-1\\1\\-1\\1\\-1\\1\\-1\\1\\-1\\1\\-1\\1\\-1\\1\\-1\\1\\-1\\
1\\-1\\1\\-1\\1\\-1\\1\\-1\\1\\-1\\1\\-1\\1\\-1\\1\\-1\\1\\-1\\1\\-1\\
1\\-1\\1\\-1\\1\\-1\\1\\-1\\1\\-1\\1\\-1\\1\\-1\\1\\-1\\1\\-1\\1\\-1\\
1\\-1\\1\\-1\\1\\-1\\1\\-1\\1\\-1\\1\\-1\\1\\-1\\1\\-1\\1\\-1\\1\\-1\\
1\\-1\\1\\-1\\1\\-1\\1\\-1\\1\\-1\\1\\-1\\1\\-1\\1\\-1\\1\\-1\\1\\-1\\
1\\-1\\1\\-1\\1\\-1\\1\\-1\\1\\-1\\1\\-1\\1\\-1\\1\\-1\\1\\-1\\1\\-1\\
1\\-1\\1\\-1\\1\\-1\\1\\-1\\1\\-1\\1\\-1\\1\\-1\\1\\-1\\1\\-1\\1\\-1\\
1\\};
\addplot[cyn] table[x expr=\coordindex*0.0625,y index=0,header=false,row sep=\\]{
1\\0.71\\0\\-0.71\\-1\\-0.71\\0\\0.71\\1\\0.71\\0\\-0.71\\-1\\-0.71\\0\\0.71\\
1\\0.71\\0\\-0.71\\-1\\-0.71\\0\\0.71\\1\\0.71\\0\\-0.71\\-1\\-0.71\\0\\0.71\\
1\\0.71\\0\\-0.71\\-1\\-0.71\\0\\0.71\\1\\0.71\\0\\-0.71\\-1\\-0.71\\0\\0.71\\
1\\0.71\\0\\-0.71\\-1\\-0.71\\0\\0.71\\1\\0.71\\0\\-0.71\\-1\\-0.71\\0\\0.71\\
1\\0.71\\0\\-0.71\\-1\\-0.71\\0\\0.71\\1\\0.71\\0\\-0.71\\-1\\-0.71\\0\\0.71\\
1\\0.71\\0\\-0.71\\-1\\-0.71\\0\\0.71\\1\\0.71\\0\\-0.71\\-1\\-0.71\\0\\0.71\\
1\\0.71\\0\\-0.71\\-1\\-0.71\\0\\0.71\\1\\0.71\\0\\-0.71\\-1\\-0.71\\0\\0.71\\
1\\0.71\\0\\-0.71\\-1\\-0.71\\0\\0.71\\1\\0.71\\0\\-0.71\\-1\\-0.71\\0\\0.71\\
1\\};
\end{axis}

% ---------------- F right ----------------
\begin{axis}[osc,at={(354pt,7pt)}]
\addplot[ylw] table[x expr=\coordindex*0.05,y index=0,header=false,row sep=\\]{
1.0\\-1.1\\1.1\\-1.0\\1.1\\-1.05\\1.05\\-1.1\\1.1\\-1.0\\1.2\\-1.2\\1.3\\-1.25\\1.3\\-1.35\\1.35\\-1.3\\1.4\\-1.35\\
1.5\\-1.4\\1.4\\-1.35\\1.3\\-1.3\\1.35\\-1.3\\1.3\\-1.25\\1.3\\-1.3\\1.25\\-1.35\\1.3\\-1.45\\1.3\\-1.4\\1.2\\-1.2\\
1.1\\-1.1\\1.15\\-1.05\\1.1\\-1.1\\1.2\\-1.05\\1.1\\-1.1\\1.05\\-1.0\\1.1\\-1.05\\1.0\\-1.1\\1.05\\-1.0\\1.0\\-1.0\\
0.95\\-0.9\\1.0\\-0.9\\0.95\\-0.95\\0.9\\-0.9\\0.95\\-0.85\\0.9\\-0.9\\0.95\\-0.9\\0.9\\-0.85\\0.95\\-0.9\\1.0\\-0.9\\
0.95\\-0.9\\0.9\\-0.95\\0.95\\-0.9\\0.9\\-0.9\\1.0\\-0.95\\1.0\\-1.0\\0.95\\-1.0\\1.0\\-0.95\\1.0\\-1.0\\1.05\\-1.0\\
1.0\\-1.05\\1.1\\-1.1\\1.2\\-1.3\\1.35\\-1.4\\1.45\\-1.5\\1.5\\-1.55\\1.6\\-1.55\\1.5\\-1.6\\1.55\\-1.5\\1.5\\-1.45\\
1.5\\-1.45\\1.45\\-1.5\\1.4\\-1.35\\1.35\\-1.3\\1.3\\-1.25\\1.3\\-1.2\\1.25\\-1.2\\1.2\\-1.1\\1.15\\-1.1\\1.1\\-1.05\\
1.0\\-0.95\\1.0\\-0.9\\0.95\\-0.95\\1.0\\-0.9\\0.95\\-0.9\\1.0\\-0.9\\0.95\\-0.95\\0.9\\-0.9\\0.95\\-0.9\\1.0\\-0.9\\
0.95\\};
\addplot[cyn] coordinates {(0,1.0)(0.1,0.27)(0.2,-0.59)(0.25,-0.71)(0.32,-0.65)(0.4,0.09)(0.48,0.57)(0.55,0.51)(0.65,-0.28)(0.7,-1.07)(0.75,-1.01)(0.85,-0.04)(0.95,0.82)(1.0,1.0)(1.07,0.57)(1.15,-0.4)(1.2,-0.87)(1.27,-0.89)(1.35,0.09)(1.43,1.18)(1.5,1.24)(1.57,0.94)(1.67,-0.04)(1.75,-0.77)(1.8,-0.83)(1.9,0.21)(1.98,1.0)(2.05,0.94)(2.15,-0.16)(2.25,-1.07)(2.3,-1.01)(2.38,0.21)(2.45,1.37)(2.52,1.37)(2.6,0.21)(2.7,-0.89)(2.75,-1.13)(2.82,-0.77)(2.9,0.45)(2.98,1.0)(3.05,0.94)(3.12,-0.04)(3.2,-0.83)(3.25,-0.99)(3.35,-0.28)(3.45,0.82)(3.5,1.12)(3.58,0.7)(3.7,-0.28)(3.78,-0.59)(3.87,-0.34)(3.98,0.7)(4.0,0.82)(4.07,0.57)(4.17,-0.4)(4.25,-0.87)(4.33,-0.71)(4.45,0.33)(4.55,1.0)(4.62,0.7)(4.72,-0.34)(4.8,-0.83)(4.88,-0.52)(4.97,0.7)(5.05,1.18)(5.12,0.94)(5.22,-0.28)(5.3,-0.89)(5.35,-0.83)(5.45,0.33)(5.55,1.37)(5.6,1.37)(5.7,0.09)(5.78,-1.01)(5.83,-1.26)(5.92,-0.4)(6.0,0.94)(6.05,1.24)(6.12,0.88)(6.22,-0.4)(6.3,-1.13)(6.35,-1.01)(6.45,0.21)(6.52,1.12)(6.6,1.06)(6.7,-0.04)(6.77,-0.83)(6.85,-0.59)(6.95,0.45)(7.02,0.82)(7.1,0.7)(7.2,-0.22)(7.27,-0.71)(7.35,-0.65)(7.45,0.27)(7.55,1.0)(7.62,0.88)(7.72,-0.16)(7.8,-0.77)(7.85,-0.83)(7.95,-0.04)(8.0,0.51)};
\end{axis}
\end{tikzpicture}
\end{document}
